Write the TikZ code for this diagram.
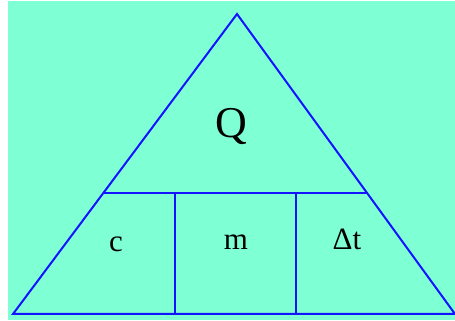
\documentclass[tikz,border=0pt]{standalone}
\usepackage{fontspec}
\setmainfont{Liberation Serif}
\usetikzlibrary{calc}
\definecolor{aqua}{RGB}{127,255,212}
\definecolor{edgeblue}{RGB}{20,20,255}
\tikzset{
  side/.style={draw=edgeblue, line width=2pt, line join=miter},
  letter/.style={anchor=base, inner sep=0pt, font=\fontsize{31}{31}\selectfont},
}
\begin{document}
\begin{tikzpicture}[x=1pt, y=1pt]
    % Frame and background
    \useasboundingbox (0,0) rectangle (455,321);
    \fill[aqua] (8,1) rectangle (455,320);

    % Corners of the triangle
    \coordinate (apex) at (237,307);
    \coordinate (left) at (13,7);
    \coordinate (right) at (455,7);
    \coordinate (midL) at ($(left)!0.403!(apex)$);
    \coordinate (midR) at ($(right)!0.403!(apex)$);
    \coordinate (cutA) at (175,7);
    \coordinate (cutB) at (296,7);

    % Outline
    \draw[side] (left) -- (apex) -- (right) -- cycle;

    % Dividers
    \draw[side] (midL) -- (midR);
    \draw[side] (cutA) -- (cutA |- midL);
    \draw[side] (cutB) -- (cutB |- midL);

    % Labels
    \node[letter, font=\fontsize{44}{44}\selectfont] (q) at (231,183) {Q};
    \node[letter] (c) at (116,69) {c};
    \node[letter] (m) at (236,71) {m};
    \node[letter] (dt) at (347,71) {Δt};
\end{tikzpicture}
\end{document}
